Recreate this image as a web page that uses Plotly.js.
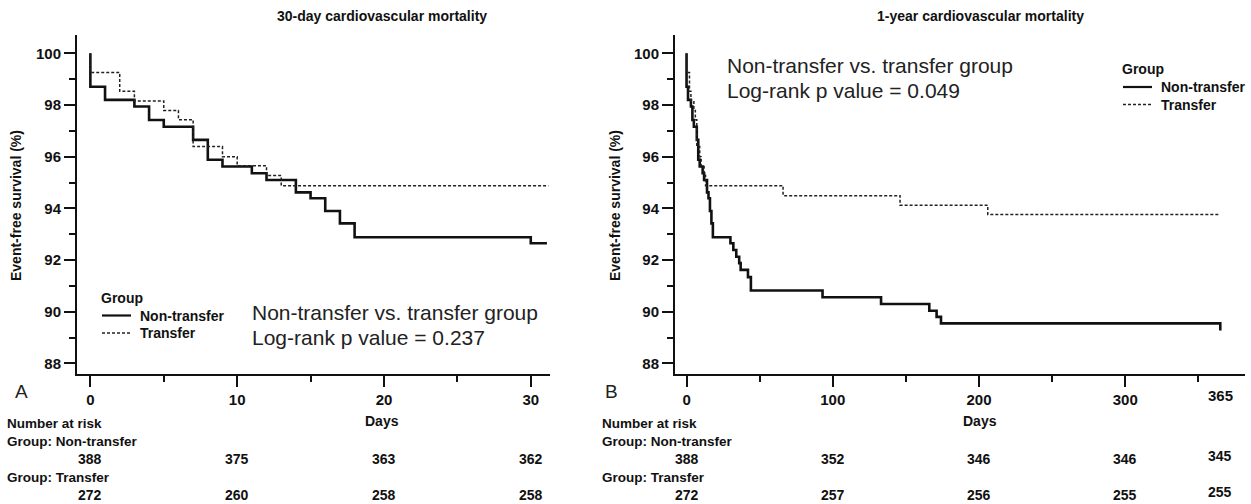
<!DOCTYPE html>
<html>
<head>
<meta charset="utf-8">
<script src="https://cdn.plot.ly/plotly-3.0.1.min.js"></script>
<style>html,body{margin:0;padding:0;background:#fff;}#chart{width:1251px;height:504px;}</style>
</head>
<body>
<div id="chart"></div>
<script>
// ---- data ----
const ntDay30  = [0, 0, 1, 3, 4, 5, 7, 8, 9, 11, 12, 14, 15, 16, 17, 18, 30, 31.1];
const ntSurv30 = [100, 98.71, 98.20, 97.94, 97.42, 97.16, 96.65, 95.88, 95.62, 95.36, 95.10, 94.62, 94.39, 93.90, 93.42, 92.88, 92.65, 92.65];
const trDay30  = [0, 0, 2, 3, 5, 6, 7, 9, 10, 12, 13, 31.2];
const trSurv30 = [100, 99.26, 98.53, 98.16, 97.79, 97.43, 96.39, 96.00, 95.65, 95.27, 94.88, 94.88];

const ntDay365  = [0, 0, 1, 3, 4, 5, 7, 8, 9, 11, 12, 14, 15, 16, 17, 18, 30, 32, 34, 36, 37, 42, 44, 93, 133, 166, 171, 174, 365];
const ntSurv365 = [100, 98.71, 98.20, 97.94, 97.42, 97.16, 96.65, 95.88, 95.62, 95.36, 95.10, 94.62, 94.39, 93.90, 93.42, 92.88, 92.65, 92.39, 92.13, 91.88, 91.62, 91.34, 90.82, 90.56, 90.30, 90.04, 89.80, 89.55, 89.27];
const trDay365  = [0, 0, 2, 3, 5, 6, 7, 9, 10, 12, 13, 66, 146, 206, 364];
const trSurv365 = [100, 99.26, 98.53, 98.16, 97.79, 97.43, 96.39, 96.00, 95.65, 95.27, 94.88, 94.49, 94.12, 93.76, 93.76];

const riskDays30  = [0, 10, 20, 30];
const riskNT30    = [388, 375, 363, 362];
const riskTR30    = [272, 260, 258, 258];
const riskDays365 = [0, 100, 200, 300, 365];
const riskNT365   = [388, 352, 346, 346, 345];
const riskTR365   = [272, 257, 256, 255, 255];

const groupNames = ['Non-transfer', 'Transfer'];
const panelTitles = ['30-day cardiovascular mortality', '1-year cardiovascular mortality'];
const pvalTexts = ['Log-rank p value = 0.237', 'Log-rank p value = 0.049'];
const compareText = 'Non-transfer vs. transfer group';

// ---- styling ----
const W = 1251, H = 504;
const FONT = 'Liberation Sans, Arial, sans-serif';
const INK = '#111';
const px = x => x / W;
const py = y => 1 - y / H;

const solid = {color: INK, width: 2.6, shape: 'hv'};
const dashed = {color: '#222', width: 1.5, dash: '3px,2px', shape: 'hv'};

const traces = [
  {x: ntDay30, y: ntSurv30, xaxis: 'x', yaxis: 'y', mode: 'lines', line: solid, name: groupNames[0], showlegend: false},
  {x: trDay30, y: trSurv30, xaxis: 'x', yaxis: 'y', mode: 'lines', line: dashed, name: groupNames[1], showlegend: false},
  {x: ntDay365, y: ntSurv365, xaxis: 'x2', yaxis: 'y2', mode: 'lines', line: solid, name: groupNames[0], showlegend: false},
  {x: trDay365, y: trSurv365, xaxis: 'x2', yaxis: 'y2', mode: 'lines', line: dashed, name: groupNames[1], showlegend: false}
];

const bold = (size) => ({family: FONT, size: size, color: INK, weight: 'bold'});
const reg = (size) => ({family: FONT, size: size, color: '#222'});

function ann(x, y, text, font, extra) {
  return Object.assign({xref: 'paper', yref: 'paper', x: px(x), y: py(y), text: text, showarrow: false,
    font: font, xanchor: 'left', yanchor: 'middle'}, extra || {});
}

const annotations = [];
const shapes = [];

// panel titles
annotations.push(ann(382, 16, panelTitles[0], bold(14), {xanchor: 'center'}));
annotations.push(ann(980, 16, panelTitles[1], bold(14), {xanchor: 'center'}));
// y titles
annotations.push(ann(16, 206, 'Event-free survival (%)', bold(14), {xanchor: 'center', textangle: -90}));
annotations.push(ann(615, 206, 'Event-free survival (%)', bold(14), {xanchor: 'center', textangle: -90}));
// x titles
annotations.push(ann(382, 421, 'Days', bold(14), {xanchor: 'center'}));
annotations.push(ann(980, 421, 'Days', bold(14), {xanchor: 'center'}));
// panel letters
annotations.push(ann(21, 391, 'A', reg(19), {xanchor: 'center'}));
annotations.push(ann(611, 391, 'B', reg(19), {xanchor: 'center'}));
// log-rank text
annotations.push(ann(250, 312, compareText, reg(21)));
annotations.push(ann(250, 337, pvalTexts[0], reg(21)));
annotations.push(ann(725, 65, compareText, reg(21)));
annotations.push(ann(725, 90, pvalTexts[1], reg(21)));
// extra 365 tick label
annotations.push({xref: 'x2', yref: 'paper', x: 365, y: py(395), text: '365', showarrow: false,
  font: bold(15), xanchor: 'center', yanchor: 'middle'});

// legends
function legend(x0, yTitle, dy) {
  annotations.push(ann(x0, yTitle, 'Group', bold(14)));
  const styles = [solid, dashed];
  groupNames.forEach((g, i) => {
    const yy = yTitle + dy * (i + 1);
    annotations.push(ann(x0 + 39, yy, g, bold(14)));
    shapes.push({type: 'line', xref: 'paper', yref: 'paper', x0: px(x0 + 3), x1: px(x0 + 32), y0: py(yy), y1: py(yy),
      line: {color: styles[i].color, width: i === 0 ? 2.2 : 1.3, dash: i === 0 ? 'solid' : '3px,2px'}});
  });
}
legend(99, 298, 17.5);
legend(1120, 69.5, 17.5);

// risk tables
function riskTable(xLeft, xref, days, nt, tr) {
  annotations.push(ann(xLeft, 423, 'Number at risk', bold(13.5)));
  annotations.push(ann(xLeft, 441, 'Group: ' + groupNames[0], bold(13.5)));
  annotations.push(ann(xLeft, 477, 'Group: ' + groupNames[1], bold(13.5)));
  days.forEach((d, i) => {
    const lift = (d === 365) ? 3 : 0;
    annotations.push({xref: xref, yref: 'paper', x: d, y: py(459 - lift), text: String(nt[i]), showarrow: false,
      font: bold(14), xanchor: 'center', yanchor: 'middle'});
    annotations.push({xref: xref, yref: 'paper', x: d, y: py(495 - lift), text: String(tr[i]), showarrow: false,
      font: bold(14), xanchor: 'center', yanchor: 'middle'});
  });
}
riskTable(5, 'x', riskDays30, riskNT30, riskTR30);
riskTable(600, 'x2', riskDays365, riskNT365, riskTR365);

const yDomain = [1 - 374 / H, 1 - 35 / H];
const yAxisBase = {
  range: [87.59, 100.71], tick0: 88, dtick: 2, showgrid: false, zeroline: false,
  showline: true, linecolor: INK, linewidth: 2, ticks: 'outside', ticklen: 11, tickwidth: 2, tickcolor: INK,
  minor: {dtick: 1, tick0: 88, ticks: 'outside', ticklen: 6, tickwidth: 2, tickcolor: INK, showgrid: false},
  tickfont: bold(15), domain: yDomain, fixedrange: true
};
const xAxisBase = {
  showgrid: false, zeroline: false, showline: true, linecolor: INK, linewidth: 2,
  ticks: 'outside', ticklen: 11, tickwidth: 2, tickcolor: INK, tickfont: bold(15), fixedrange: true
};

const layout = {
  width: W, height: H, autosize: false,
  margin: {l: 0, r: 0, t: 0, b: 0, pad: 0},
  paper_bgcolor: '#fff', plot_bgcolor: '#fff',
  showlegend: false,
  xaxis: Object.assign({}, xAxisBase, {domain: [77 / W, 550 / W], range: [-0.91, 31.31], tick0: 0, dtick: 10,
    minor: {dtick: 5, tick0: 0, ticks: 'outside', ticklen: 6, tickwidth: 2, tickcolor: INK, showgrid: false}, anchor: 'y'}),
  yaxis: Object.assign({}, yAxisBase, {anchor: 'x'}),
  xaxis2: Object.assign({}, xAxisBase, {domain: [675 / W, 1245 / W], range: [-7.9, 381.9], tick0: 0, dtick: 100,
    minor: {dtick: 50, tick0: 0, ticks: 'outside', ticklen: 6, tickwidth: 2, tickcolor: INK, showgrid: false}, anchor: 'y2'}),
  yaxis2: Object.assign({}, yAxisBase, {anchor: 'x2'}),
  annotations: annotations,
  shapes: shapes
};

Plotly.newPlot('chart', traces, layout, {displayModeBar: false, staticPlot: true});
</script>
</body>
</html>
